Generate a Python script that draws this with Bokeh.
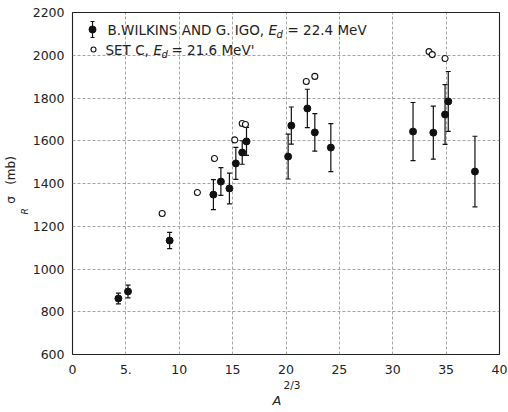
import numpy as np
from bokeh.plotting import figure
from bokeh.models import (ColumnDataSource, Whisker, TeeHead, Label, FixedTicker, Range1d, Title)
from bokeh.embed import file_html
from bokeh.resources import INLINE

# B. Wilkins and G. Igo, Ed = 22.4 MeV (filled, with error bars)
wilkins_x = [4.3, 5.2, 9.1, 13.2, 13.9, 14.7, 15.3, 15.9, 16.3, 20.2, 20.5, 22.0, 22.7, 24.2, 31.9, 33.8, 34.9, 35.2, 37.7]
wilkins_y = [862, 895, 1133, 1348, 1409, 1377, 1494, 1545, 1597, 1526, 1671, 1751, 1639, 1568, 1643, 1638, 1723, 1784, 1456]
wilkins_err = [25, 30, 38, 70, 65, 72, 75, 55, 65, 105, 87, 90, 88, 112, 136, 124, 140, 140, 165]

# Set C, Ed = 21.6 MeV (open circles)
setc_x = [8.4, 11.7, 13.3, 15.2, 15.9, 16.2, 21.9, 22.7, 33.4, 33.7, 34.9]
setc_y = [1260, 1358, 1517, 1604, 1681, 1676, 1877, 1901, 2017, 2003, 1985]

x_ticks = [0, 5, 10, 15, 20, 25, 30, 35, 40]
x_tick_labels = ["0", "5.", "10", "15", "20", "25", "30", "35", "40"]
y_ticks = [600, 800, 1000, 1200, 1400, 1600, 1800, 2000, 2200]

FONT = "DejaVu Sans"
INK = "#222222"
NB = "\u00a0"
W, H = 508, 412
L, R, T, B = 72, 9, 12, 58
FW, FH = W - L - R, H - T - B
X0, X1, Y0, Y1 = 0, 40, 600, 2200

def dx(px):
    return X0 + (px - L) * (X1 - X0) / FW

def dy(py):
    return Y0 + (T + FH - py) * (Y1 - Y0) / FH

p = figure(width=W, height=H, output_backend="svg", toolbar_location=None,
           x_range=Range1d(X0, X1), y_range=Range1d(Y0, Y1),
           min_border_left=L, min_border_right=R, min_border_top=T, min_border_bottom=B,
           frame_width=FW, frame_height=FH)
p.background_fill_color = "white"
p.border_fill_color = "white"
p.outline_line_color = INK
p.outline_line_width = 1.1

p.xaxis.ticker = FixedTicker(ticks=x_ticks)
p.xaxis.major_label_overrides = {t: s_ for t, s_ in zip(x_ticks, x_tick_labels)}
p.yaxis.ticker = FixedTicker(ticks=y_ticks)
for ax in (p.xaxis, p.yaxis):
    ax.axis_line_color = None
    ax.major_tick_line_color = None
    ax.minor_tick_line_color = None
    ax.major_tick_out = 0
    ax.major_tick_in = 0
    ax.minor_tick_out = 0
    ax.major_label_text_font = FONT
    ax.major_label_text_font_size = "12.5px"
    ax.major_label_text_color = INK
p.xaxis.major_label_standoff = 10
p.yaxis.major_label_standoff = 8

for g in (p.xgrid, p.ygrid):
    g.grid_line_color = "#999999"
    g.grid_line_dash = "3 2"
    g.grid_line_width = 0.9

src_w = ColumnDataSource(dict(x=wilkins_x, y=wilkins_y,
                              lo=[y - e for y, e in zip(wilkins_y, wilkins_err)],
                              hi=[y + e for y, e in zip(wilkins_y, wilkins_err)]))
wh = Whisker(source=src_w, base="x", lower="lo", upper="hi", line_color="#111111", line_width=1.2,
             upper_head=TeeHead(size=5, line_color="#111111", line_width=1.2),
             lower_head=TeeHead(size=5, line_color="#111111", line_width=1.2))
p.add_layout(wh)
p.scatter("x", "y", source=src_w, size=7, color="#111111")
p.scatter(setc_x, setc_y, size=6, fill_color="white", line_color="#111111", line_width=1.1)

# legend (custom, to allow subscripts)
lx1, ly1 = 92, 29
lx2, ly2 = 93, 49
leg_src = ColumnDataSource(dict(x=[dx(lx1)], y=[dy(ly1)], lo=[dy(ly1 + 8)], hi=[dy(ly1 - 8)]))
p.add_layout(Whisker(source=leg_src, base="x", lower="lo", upper="hi", line_color="#111111", line_width=1.2,
                     upper_head=TeeHead(size=4, line_color="#111111", line_width=1.2),
                     lower_head=TeeHead(size=4, line_color="#111111", line_width=1.2)))
p.scatter([dx(lx1)], [dy(ly1)], size=7, color="#111111")
p.scatter([dx(lx2)], [dy(ly2)], size=5, fill_color="white", line_color="#111111", line_width=1.1)

def lab(text, px, py, size="13.5px", style="normal"):
    p.add_layout(Label(x=dx(px), y=dy(py), text=text, text_font=FONT, text_font_size=size,
                       text_font_style=style, text_color=INK,
                       text_align="left", text_baseline="middle"))

lab("B.WILKINS AND G. IGO,", 107, ly1)
lab("E", 268, ly1, style="italic")
lab("d", 276, ly1 + 5, size="10px", style="italic")
lab("= 22.4 MeV", 287, ly1)
lab("SET C,", 105, ly2)
lab("E", 153, ly2, style="italic")
lab("d", 161, ly2 + 5, size="10px", style="italic")
lab("= 21.6 MeV'", 171, ly2)

# axis titles as side-panel titles (sub/superscript by stacking)
def side_title(text, side, offset, size, style="normal", standoff=0):
    t = Title(text=text, align="left", offset=offset, text_font=FONT, text_font_size=size,
              text_font_style=style, text_color=INK, standoff=standoff)
    p.add_layout(t, side)

side_title("2/3", "below", 211, "10.5px")
side_title("A", "below", 200, "13px", style="italic")
side_title("R", "left", 140, "9px", style="italic")
side_title(NB * 2 + "σ" + NB * 3 + "(mb)", "left", 143, "12px")

open("out.html", "w").write(file_html(p, INLINE))
